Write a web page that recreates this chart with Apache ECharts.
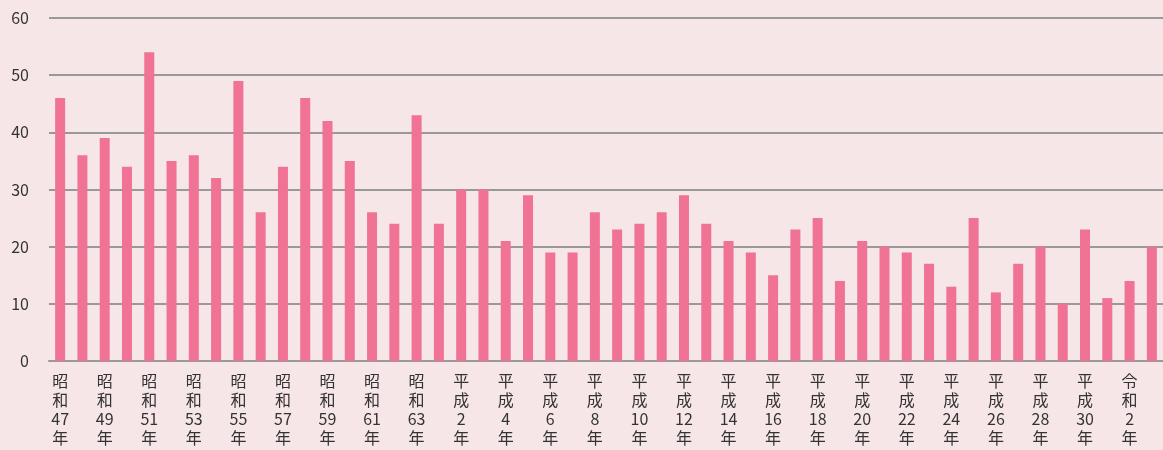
<!DOCTYPE html>
<html>
<head>
<meta charset="utf-8">
<script src="https://cdn.jsdelivr.net/npm/echarts@6/dist/echarts.min.js"></script>
<style>
  html, body { margin: 0; padding: 0; background: #f7e6e7; }
  #chart { width: 1163px; height: 450px; }
</style>
</head>
<body>
<div id="chart"></div>
<script>
// 年（和暦）
var years = [
  '昭和47年', '昭和48年', '昭和49年', '昭和50年', '昭和51年', '昭和52年', '昭和53年', '昭和54年',
  '昭和55年', '昭和56年', '昭和57年', '昭和58年', '昭和59年', '昭和60年', '昭和61年', '昭和62年',
  '昭和63年', '平成元年', '平成2年', '平成3年', '平成4年', '平成5年', '平成6年', '平成7年',
  '平成8年', '平成9年', '平成10年', '平成11年', '平成12年', '平成13年', '平成14年', '平成15年',
  '平成16年', '平成17年', '平成18年', '平成19年', '平成20年', '平成21年', '平成22年', '平成23年',
  '平成24年', '平成25年', '平成26年', '平成27年', '平成28年', '平成29年', '平成30年', '令和元年',
  '令和2年', '令和3年'
];

var counts = [
  46, 36, 39, 34, 54, 35, 36, 32,
  49, 26, 34, 46, 42, 35, 26, 24,
  43, 24, 30, 30, 21, 29, 19, 19,
  26, 23, 24, 26, 29, 24, 21, 19,
  15, 23, 25, 14, 21, 20, 19, 17,
  13, 25, 12, 17, 20, 10, 23, 11,
  14, 20
];

var yTicks = { min: 0, max: 60, interval: 10 };

var chart = echarts.init(document.getElementById('chart'), null, { renderer: 'canvas' });

chart.setOption({
  backgroundColor: '#f7e6e7',
  animation: false,
  grid: { left: 49, right: 0, top: 18, bottom: 89 },
  xAxis: {
    type: 'category',
    data: years,
    axisLine: { show: true, lineStyle: { color: '#999999', width: 2 } },
    axisTick: { show: false },
    axisLabel: {
      interval: 1,
      margin: 10,
      color: '#333333',
      fontSize: 16,
      lineHeight: 19,
      fontFamily: '"Noto Sans CJK JP", sans-serif',
      formatter: function (v) {
        // 縦書き: 元号2文字、数字、年
        var era = v.slice(0, 2);
        var num = v.slice(2, v.length - 1);
        return era[0] + '\n' + era[1] + '\n' + num + '\n年';
      }
    }
  },
  yAxis: {
    type: 'value',
    min: yTicks.min,
    max: yTicks.max,
    interval: yTicks.interval,
    axisLine: { show: false },
    axisTick: { show: false },
    axisLabel: {
      margin: 20,
      color: '#333333',
      fontSize: 16,
      fontFamily: '"Noto Sans CJK JP", sans-serif'
    },
    splitLine: { lineStyle: { color: '#999999', width: 2 } }
  },
  series: [{
    type: 'bar',
    data: counts,
    barWidth: 10,
    itemStyle: { color: '#f07295' }
  }]
});
</script>
</body>
</html>
